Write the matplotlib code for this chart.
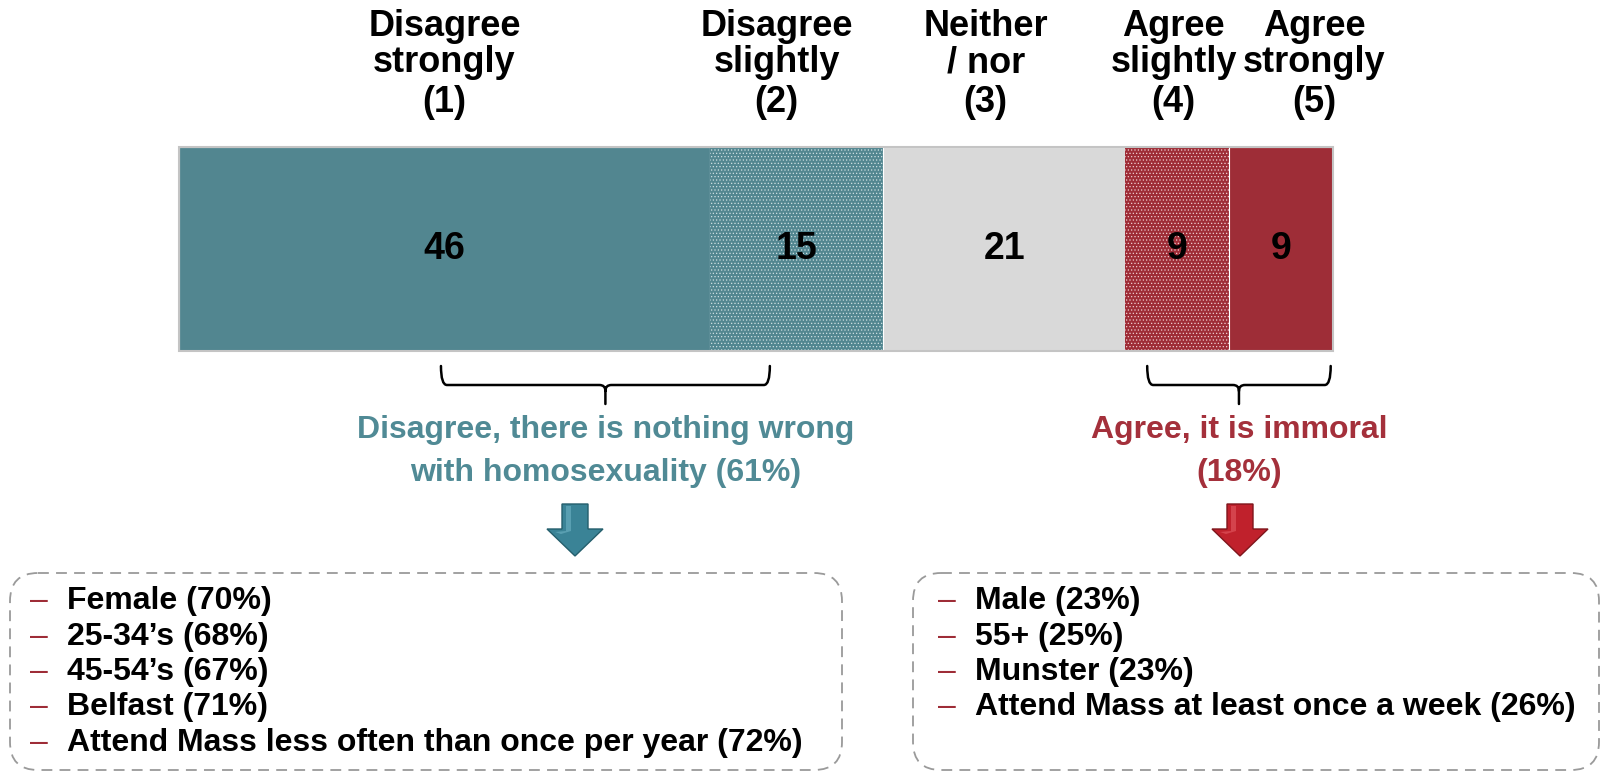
import matplotlib.pyplot as plt
import numpy as np
from matplotlib.patches import Rectangle, FancyBboxPatch, Polygon, PathPatch
from matplotlib.path import Path
from matplotlib.transforms import blended_transform_factory

plt.rcParams['font.family'] = ['Liberation Sans', 'DejaVu Sans']
plt.rcParams['font.weight'] = 'bold'
plt.rcParams['hatch.linewidth'] = 0.5

# data
categorias = ["Disagree\nstrongly\n(1)", "Disagree\nslightly\n(2)", "Neither\n/ nor\n(3)",
              "Agree\nslightly\n(4)", "Agree\nstrongly\n(5)"]
valores = [46, 15, 21, 9, 9]
grupo_textos = ["Disagree, there is nothing wrong\nwith homosexuality (61%)", "Agree, it is immoral\n(18%)"]
lista_izq = ["Female (70%)", "25-34\u2019s (68%)", "45-54\u2019s (67%)", "Belfast (71%)",
             "Attend Mass less often than once per year (72%)"]
lista_der = ["Male (23%)", "55+ (25%)", "Munster (23%)", "Attend Mass at least once a week (26%)"]

teal = "#528690"
rojo = "#9e2d37"
gris = "#d9d9d9"
colores = [teal, teal, gris, rojo, rojo]
punteado = [False, True, False, True, False]
color_punto = [None, "#cde0e3", None, "#efcdd0", None]
shift_cab = [0, -1.7, -1.6, -0.3, 2.9]  # header offsets (units)
teal_txt = "#508a95"
rojo_txt = "#a4303b"

fig = plt.figure(figsize=(16.04, 7.72), dpi=100)
ov = fig.add_axes([0, 0, 1, 1])
ov.set_xlim(0, 1604)
ov.set_ylim(772, 0)
ov.axis('off')

ax = fig.add_axes([179/1604, (772-351)/772, 1154/1604, 204/772])
ax.set_xlim(0, 100)
ax.set_ylim(0, 1)
ax.axis('off')
ax.patch.set_alpha(0)

izq = np.concatenate([[0], np.cumsum(valores)[:-1]])
for i in range(len(valores)):
    if punteado[i]:
        ax.barh(0.5, valores[i], left=izq[i], height=1, color=colores[i],
                hatch='.....', edgecolor=color_punto[i], linewidth=0)
    else:
        ax.barh(0.5, valores[i], left=izq[i], height=1, color=colores[i],
                edgecolor='white', linewidth=0.8)
    centro = izq[i] + valores[i] / 2
    ax.text(centro, 0.5, str(valores[i]), ha='center', va='center', fontsize=27,
            fontweight='bold', color='black')
ax.add_patch(Rectangle((0, 0), 100, 1, fill=False, edgecolor='#c4c4c4', linewidth=1.5, clip_on=False))

# headers
tr = blended_transform_factory(ax.transData, ov.transData)
for i, cat in enumerate(categorias):
    centro = izq[i] + valores[i] / 2 + shift_cab[i]
    for j, linea in enumerate(cat.split("\n")):
        ov.text(centro, [26, 63, 102][j], linea, transform=tr, ha='center', va='center',
                fontsize=26, fontweight='bold', color='black')

# llaves
def llave(x0, x1, ytop, ymid, ytip, r=6):
    inv = ov.transData.inverted()
    a = inv.transform((ax.transData.transform((x0, 0))[0], 0))[0]
    b = inv.transform((ax.transData.transform((x1, 0))[0], 0))[0]
    xc = (a + b) / 2
    verts = [(a, ytop), (a, ymid), (a + r, ymid), (xc - r, ymid), (xc, ymid), (xc, ymid + r), (xc, ytip),
             (xc, ymid + r), (xc, ymid), (xc + r, ymid), (b - r, ymid), (b, ymid), (b, ytop)]
    codes = [Path.MOVETO, Path.CURVE3, Path.CURVE3, Path.LINETO, Path.CURVE3, Path.CURVE3, Path.LINETO,
             Path.MOVETO, Path.CURVE3, Path.CURVE3, Path.LINETO, Path.CURVE3, Path.CURVE3]
    ov.add_patch(PathPatch(Path(verts, codes), fill=False, edgecolor='black', linewidth=1.8,
                           capstyle='round', joinstyle='round'))
    return xc

cx1 = llave(22.7, 51.2, 366, 385, 404)
cx2 = llave(83.9, 99.8, 366, 385, 404)

for cx, txt, col in [(cx1, grupo_textos[0], teal_txt), (cx2, grupo_textos[1], rojo_txt)]:
    for j, linea in enumerate(txt.split("\n")):
        ov.text(cx, [430, 473][j], linea, ha='center', va='center', fontsize=23,
                fontweight='bold', color=col)

# flechas
def flecha(cx, fc, ec, hl):
    pts = [(cx-13, 504), (cx-13, 529), (cx-28, 529), (cx, 556), (cx+28, 529), (cx+13, 529), (cx+13, 504)]
    ov.add_patch(Polygon(pts, closed=True, facecolor=fc, edgecolor=ec, linewidth=1))
    ov.add_patch(Polygon([(cx-9, 506), (cx-9, 531), (cx-20, 532), (cx-14, 534), (cx-4, 531), (cx-4, 506)],
                         closed=True, facecolor=hl, edgecolor='none', alpha=0.6))

flecha(575, "#3a8396", "#245e6c", "#6fb3c4")
flecha(1240, "#c0212c", "#7e151b", "#e35a62")

# cajas
for (x0, x1) in [(10, 842), (913, 1599)]:
    ov.add_patch(FancyBboxPatch((x0, 573), x1 - x0, 197, boxstyle="round,pad=0,rounding_size=28",
                                fill=False, edgecolor='#9a9a9a', linewidth=1.3, linestyle=(0, (6, 4))))

for i, t in enumerate(lista_izq):
    y = 601 + i * 35.5
    ov.text(30, y, "\u2013", ha='left', va='center', fontsize=23, color=rojo, fontweight='normal')
    ov.text(67, y, t, ha='left', va='center', fontsize=23, fontweight='bold', color='black')
for i, t in enumerate(lista_der):
    y = 601 + i * 35.5
    ov.text(938, y, "\u2013", ha='left', va='center', fontsize=23, color=rojo, fontweight='normal')
    ov.text(975, y, t, ha='left', va='center', fontsize=23, fontweight='bold', color='black')

fig.savefig("out.png", dpi=100)
